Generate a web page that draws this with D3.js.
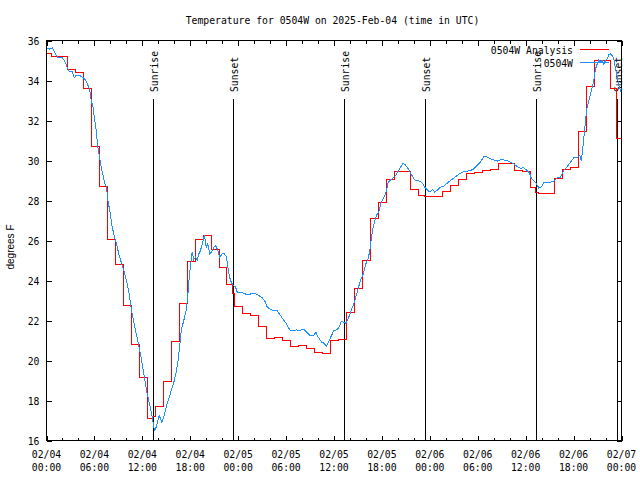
<!DOCTYPE html>
<html><head><meta charset="utf-8">
<script src="https://cdn.jsdelivr.net/npm/d3@7"></script>
<style>
html,body{margin:0;padding:0;background:#fff;}
svg{display:block;}
text{font-family:"DejaVu Sans Mono","Liberation Mono",monospace;font-size:9.75px;fill:#000;}
</style></head>
<body>
<script>
// ---- data ----
const titleText = "Temperature for 0504W on 2025-Feb-04 (time in UTC)";
const yLabel = "degrees F";
const seriesNames = ["0504W Analysis", "0504W"];
const majorTickHours = [0,6,12,18,24,30,36,42,48,54,60,66,72];
const tickDates = ["02/04","02/04","02/04","02/04","02/05","02/05","02/05","02/05","02/06","02/06","02/06","02/06","02/07"];
const tickTimes = ["00:00","06:00","12:00","18:00","00:00","06:00","12:00","18:00","00:00","06:00","12:00","18:00","00:00"];
const yTicks = [16,18,20,22,24,26,28,30,32,34,36];
const eventHours = [13.32, 23.33, 37.30, 47.37, 61.28, 71.40];
const eventLabels = ["Sunrise","Sunset","Sunrise","Sunset","Sunrise","Sunset"];

// analysis (step) : [hour, degF]
const analysis = [
 [0,35.33],[0.6,35.22],[2.6,34.53],[3.6,34.42],[4.6,33.62],[5.6,30.68],[6.6,28.68],[7.6,26.07],
 [8.6,24.78],[9.6,22.73],[10.6,20.82],[11.6,19.15],[12.6,17.12],[13.32,17.18],[13.6,17.68],
 [14.6,18.93],[15.6,20.93],[16.6,22.85],[17.6,24.95],[18.6,26.03],[19.6,26.23],[20.6,25.55],
 [21.6,24.65],[22.6,23.8],[23.33,23.33],[23.6,22.7],[24.6,22.33],[25.6,22.27],[26.6,21.7],
 [27.6,21.08],[28.6,21.13],[29.6,20.98],[30.6,20.72],[31.6,20.73],[32.6,20.58],[33.6,20.42],
 [34.6,20.37],[35.6,21.0],[36.6,21.05],[37.6,22.38],[38.6,23.6],[39.6,25.0],[40.6,27.08],
 [41.6,27.92],[42.6,29.03],[43.6,29.47],[45.6,28.53],[46.6,28.27],[47.37,28.2],[49.6,28.47],
 [50.6,28.75],[51.6,29.03],[52.6,29.37],[53.6,29.42],[54.6,29.5],[55.6,29.53],[56.6,29.83],
 [58.6,29.5],[59.6,29.47],[60.6,28.63],[61.28,28.4],[61.6,28.33],[63.6,29.08],[64.6,29.53],
 [65.6,29.67],[66.6,31.45],[67.6,33.7],[68.6,35.0],[70.6,33.62],[71.4,31.1],[72,31.1]
];

// observations : [hour, degF]
const observed = [
 [0.0,35.63],[0.41,35.57],[0.71,35.63],[0.91,35.5],[1.16,35.28],[1.41,35.17],[1.97,35.13],[2.17,35.03],
 [2.47,34.8],[2.67,34.58],[2.84,34.45],[3.22,34.45],[3.47,34.13],[3.67,34.23],[4.26,34.23],[4.60,34.13],
 [4.88,34.03],[5.13,33.83],[5.42,33.5],[5.60,33.0],[5.82,32.67],[6.01,32.1],[6.22,31.5],[6.42,30.7],
 [6.64,30.17],[6.85,29.67],[7.05,29.3],[7.26,28.9],[7.51,28.67],[7.68,28.0],[7.93,27.5],[8.23,26.67],
 [8.52,26.17],[8.77,25.83],[9.05,25.33],[9.35,24.92],[9.68,24.5],[10.02,24.0],[10.31,23.42],[10.52,22.83],
 [10.73,22.33],[10.89,22.0],[11.14,21.5],[11.43,21.0],[11.68,20.5],[11.98,19.83],[12.18,19.33],[12.40,18.83],
 [12.61,18.33],[12.90,17.83],[13.11,17.42],[13.27,17.08],[13.44,16.67],[13.52,16.5],[13.74,16.67],[13.94,17.0],
 [14.11,17.25],[14.28,17.08],[14.44,16.92],[14.69,17.17],[14.90,17.5],[15.15,17.9],[15.44,18.25],[15.74,18.67],
 [15.94,18.9],[16.24,19.42],[16.44,19.9],[16.65,20.6],[16.87,21.5],[17.19,22.0],[17.49,22.5],[17.69,23.25],
 [17.91,24.33],[18.12,25.0],[18.24,25.42],[18.44,25.05],[18.66,25.17],[18.87,25.0],[19.07,25.33],[19.28,25.5],
 [19.50,25.83],[19.78,26.25],[20.00,25.67],[20.20,25.83],[20.45,25.33],[20.66,25.42],[20.95,25.67],[21.16,25.75],
 [21.38,25.58],[21.70,25.17],[22.00,25.33],[22.29,25.33],[22.54,25.17],[22.70,24.67],[22.92,24.17],[23.13,23.92],
 [23.38,23.75],[23.67,23.67],[23.88,23.42],[24.29,23.4],[24.71,23.37],[25.01,23.3],[25.33,23.28],[25.76,23.37],
 [26.17,23.33],[26.58,23.25],[27.01,23.13],[27.42,22.92],[27.64,22.67],[28.05,22.55],[28.46,22.5],[28.89,22.48],
 [29.30,22.25],[29.64,22.05],[30.05,21.83],[30.47,21.53],[30.89,21.5],[31.30,21.53],[31.72,21.5],[32.14,21.58],
 [32.56,21.42],[32.97,21.25],[33.47,21.25],[33.72,21.42],[34.02,21.17],[34.44,20.92],[34.72,20.87],[35.06,20.7],
 [35.40,21.0],[35.69,21.25],[35.98,21.5],[36.31,21.53],[36.65,21.67],[36.90,21.95],[37.15,21.92],[37.48,21.87],
 [37.78,22.08],[38.07,22.42],[38.40,22.75],[38.73,23.17],[39.07,23.67],[39.32,24.0],[39.66,24.33],[39.98,24.83],
 [40.28,25.08],[40.48,25.5],[40.70,26.17],[40.91,26.67],[41.11,27.0],[41.32,27.25],[41.66,27.5],[41.86,27.83],
 [42.07,28.03],[42.36,28.25],[42.57,28.5],[42.79,28.92],[43.08,29.03],[43.41,29.13],[43.74,29.25],[44.04,29.47],
 [44.33,29.67],[44.67,29.87],[44.87,29.8],[45.17,29.67],[45.49,29.45],[45.83,29.2],[46.12,29.03],[46.67,28.97],
 [47.08,28.87],[47.37,28.67],[47.67,28.53],[48.00,28.42],[48.33,28.55],[48.62,28.42],[49.00,28.53],[49.34,28.67],
 [49.75,28.72],[50.18,28.87],[50.59,29.0],[51.00,29.12],[51.43,29.25],[51.84,29.37],[52.25,29.45],[52.68,29.47],
 [53.09,29.5],[53.51,29.58],[53.93,29.75],[54.35,29.92],[54.76,30.2],[55.18,30.17],[55.60,30.08],[56.01,30.03],
 [56.44,29.97],[56.85,30.03],[57.26,30.03],[57.69,30.0],[58.10,29.92],[58.51,29.83],[58.94,29.7],[59.35,29.62],
 [59.77,29.63],[60.19,29.5],[60.48,29.37],[60.69,29.13],[61.02,29.0],[61.36,28.83],[61.65,28.62],[61.98,28.68],
 [62.27,28.92],[62.70,28.92],[63.11,28.92],[63.53,28.97],[63.95,29.13],[64.36,29.17],[64.78,29.5],[65.20,29.7],
 [65.61,29.92],[66.03,30.13],[66.45,30.13],[66.78,30.25],[66.96,30.0],[67.12,30.5],[67.37,31.5],[67.62,32.5],
 [67.91,33.0],[68.12,33.33],[68.33,33.67],[68.53,34.0],[68.75,34.58],[68.96,34.83],[69.16,35.03],[69.37,34.92],
 [69.58,35.0],[69.78,34.83],[70.00,35.0],[70.21,35.08],[70.41,35.3],[70.62,35.33],[70.84,35.25],[71.04,35.08],
 [71.25,34.58],[71.46,34.17],[71.67,33.75],[71.88,33.5],[72.0,33.6]
];

// ---- layout ----
const W = 640, H = 480;
const L = 46.5, R = 621.5, T = 40.5, B = 440.5;
const colors = ["#ff0000", "#1e90ff"];

const svg = d3.select("body").append("svg").attr("width", W).attr("height", H);
svg.append("rect").attr("width", W).attr("height", H).attr("fill", "#fff");

const x = d3.scaleLinear().domain([0, 72]).range([L, R]);
const y = d3.scaleLinear().domain([16, 36]).range([B, T]);

// title
svg.append("text").attr("x", 332.5).attr("y", 24).attr("text-anchor", "middle").text(titleText);

// y label
svg.append("text")
  .attr("transform", "translate(14,247) rotate(-90)")
  .attr("text-anchor", "middle")
  .style("font-family", "'Liberation Sans',Arial,sans-serif")
  .style("font-size", "10px")
  .text(yLabel);

// axes (ticks pointing inward)
function styleAxis(g) {
  g.select(".domain").remove();
  g.selectAll("line").attr("stroke", "#000").attr("shape-rendering", "crispEdges");
}
svg.append("g").attr("transform", `translate(0,${B})`)
  .call(d3.axisBottom(x).tickValues(d3.range(0, 73, 2)).tickSize(-3).tickFormat(""))
  .call(styleAxis);
svg.append("g").attr("transform", `translate(0,${B})`)
  .call(d3.axisBottom(x).tickValues(majorTickHours).tickSize(-5).tickFormat(""))
  .call(styleAxis);
svg.append("g").attr("transform", `translate(0,${T})`)
  .call(d3.axisTop(x).tickValues(d3.range(0, 73, 2)).tickSize(-3).tickFormat(""))
  .call(styleAxis);
svg.append("g").attr("transform", `translate(0,${T})`)
  .call(d3.axisTop(x).tickValues(majorTickHours).tickSize(-5).tickFormat(""))
  .call(styleAxis);
const yAx = svg.append("g").attr("transform", `translate(${L},0)`)
  .call(d3.axisLeft(y).tickValues(yTicks).tickSize(-5).tickPadding(7).tickFormat(d3.format("d")))
  .call(styleAxis);
yAx.selectAll("text").attr("dy", null).attr("y", 3.5)
  .style("font-family", "'DejaVu Sans Mono',monospace").style("font-size", "9.75px");
svg.append("g").attr("transform", `translate(${R},0)`)
  .call(d3.axisRight(y).tickValues(yTicks).tickSize(-5).tickFormat(""))
  .call(styleAxis);

// x tick labels (two lines)
const xl = svg.append("g");
majorTickHours.forEach((h, i) => {
  const t = xl.append("text").attr("text-anchor", "middle");
  t.append("tspan").attr("x", x(h)).attr("y", 458).text(tickDates[i]);
  t.append("tspan").attr("x", x(h)).attr("y", 471).text(tickTimes[i]);
});

// sunrise / sunset markers
const ev = svg.append("g");
eventHours.forEach((h, i) => {
  const xx = Math.round(x(h)) + 0.5;
  ev.append("line").attr("x1", xx).attr("x2", xx).attr("y1", 99).attr("y2", B)
    .attr("stroke", "#000").attr("shape-rendering", "crispEdges");
  ev.append("text").attr("transform", `translate(${xx + 4},92) rotate(-90)`)
    .attr("text-anchor", "start").text(eventLabels[i]);
});

// border
svg.append("rect").attr("x", L).attr("y", T).attr("width", R - L).attr("height", B - T)
  .attr("fill", "none").attr("stroke", "#000").attr("shape-rendering", "crispEdges");

// series
svg.append("clipPath").attr("id", "pc").append("rect")
  .attr("x", L).attr("y", T).attr("width", R - L).attr("height", B - T);
const plot = svg.append("g").attr("clip-path", "url(#pc)");
plot.append("path").datum(analysis)
  .attr("d", d3.line().x(d => x(d[0])).y(d => y(d[1])).curve(d3.curveStepAfter))
  .attr("fill", "none").attr("stroke", colors[0]).attr("stroke-width", 1)
  .attr("shape-rendering", "crispEdges");
plot.append("path").datum(observed)
  .attr("d", d3.line().x(d => x(d[0])).y(d => y(d[1])))
  .attr("fill", "none").attr("stroke", colors[1]).attr("stroke-width", 1)
  .attr("shape-rendering", "crispEdges");

// legend
const lg = svg.append("g");
[0, 1].forEach(i => {
  const ly = 49.5 + i * 13;
  lg.append("text").attr("x", 573).attr("y", ly + 4.5).attr("text-anchor", "end").text(seriesNames[i]);
  lg.append("line").attr("x1", 580).attr("x2", 609).attr("y1", ly).attr("y2", ly)
    .attr("stroke", colors[i]).attr("stroke-width", 1).attr("shape-rendering", "crispEdges");
});
</script>
</body></html>
